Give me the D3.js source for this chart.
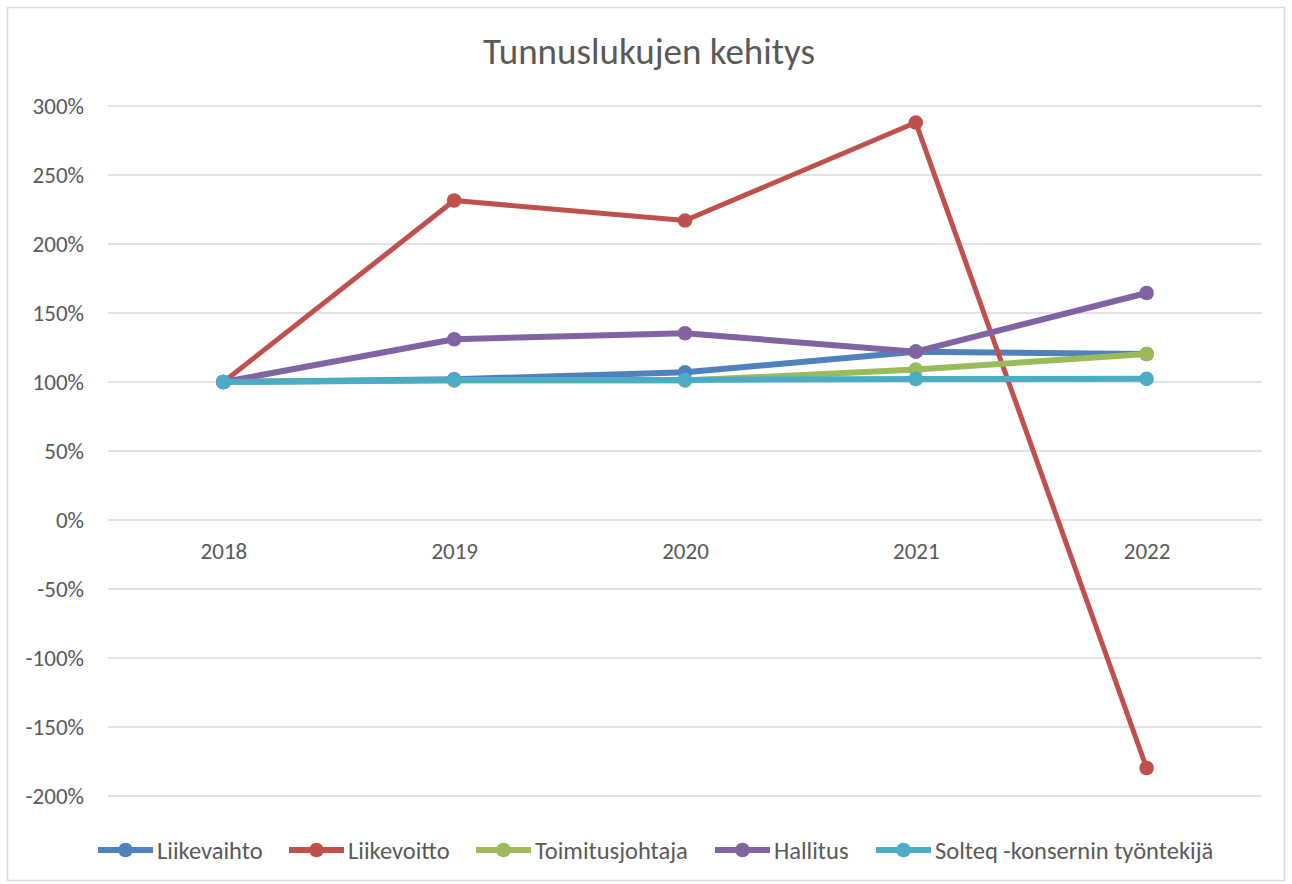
<!DOCTYPE html>
<html>
<head>
<meta charset="utf-8">
<script src="https://cdn.jsdelivr.net/npm/d3@7"></script>
<style>
  body { margin: 0; background: #fff; }
  text { font-family: Carlito, "Noto Sans", sans-serif; fill: #595959; }
</style>
</head>
<body>
<div id="chart"></div>
<script>
  // years and index values (2018 = 100 %)
  const years = ['2018', '2019', '2020', '2021', '2022'];
  const yTicks = [-200, -150, -100, -50, 0, 50, 100, 150, 200, 250, 300];

  const liikevaihto = [100, 102, 107, 122, 120.3];
  const liikevoitto = [100, 231.5, 217, 288, -179.7];
  const toimitusjohtaja = [100, 101, 101, 109, 120.3];
  const hallitus = [100, 131, 135.3, 122, 164.5];
  const solteq = [100, 101.5, 101.5, 102.2, 102.3];

  const seriesNames = ['Liikevaihto', 'Liikevoitto', 'Toimitusjohtaja', 'Hallitus', 'Solteq -konsernin työntekijä'];
  const seriesColors = ['#4f81bd', '#c0504d', '#9bbb59', '#8064a2', '#4bacc6'];

  const series = [liikevaihto, liikevoitto, toimitusjohtaja, hallitus, solteq].map((vals, i) => ({
    name: seriesNames[i], color: seriesColors[i], values: vals
  }));

  const width = 1292, height = 884;
  const plotLeft = 108, plotRight = 1262, plotTop = 106, plotBottom = 796;

  const svg = d3.select('#chart').append('svg')
      .attr('width', width)
      .attr('height', height);

  // chart border
  svg.append('rect')
      .attr('x', 7.5).attr('y', 7.5)
      .attr('width', 1277).attr('height', 873)
      .attr('fill', '#fff')
      .attr('stroke', '#d9d9d9')
      .attr('stroke-width', 1.5);

  let x = d3.scalePoint()
      .domain(years)
      .range([plotLeft, plotRight])
      .padding(0.5);

  let y = d3.scaleLinear()
      .domain([-200, 300])
      .range([plotBottom, plotTop]);

  // gridlines
  svg.append('g')
      .selectAll('line')
      .data(yTicks).enter()
      .append('line')
      .attr('x1', plotLeft).attr('x2', plotRight)
      .attr('y1', d => y(d)).attr('y2', d => y(d))
      .attr('stroke', '#d9d9d9')
      .attr('stroke-width', 1.3);

  // y axis labels
  let yAxis = d3.axisLeft(y)
      .tickValues(yTicks)
      .tickSize(0)
      .tickPadding(0)
      .tickFormat(d => d + '%');

  svg.append('g')
      .attr('transform', 'translate(' + (plotLeft - 24) + ',0)')
      .call(yAxis)
      .call(g => g.select('.domain').remove())
      .selectAll('text')
        .style('font-size', '23px')
        .attr('fill', '#595959');

  // x axis labels sit at 0%
  let xAxis = d3.axisBottom(x).tickSize(0).tickPadding(0);
  svg.append('g')
      .attr('transform', 'translate(0,' + (y(0) + 31) + ')')
      .call(xAxis)
      .call(g => g.select('.domain').remove())
      .selectAll('text')
        .style('font-size', '23px')
        .attr('dy', '0.35em')
        .attr('fill', '#595959');

  // title
  svg.append('text')
      .attr('x', 649)
      .attr('y', 64)
      .attr('text-anchor', 'middle')
      .style('font-size', '37px')
      .text('Tunnuslukujen kehitys');

  let line = d3.line()
      .x((d, i) => x(years[i]))
      .y(d => y(d));

  let groups = svg.append('g')
      .selectAll('g')
      .data(series).enter()
      .append('g');

  groups.append('path')
      .attr('d', d => line(d.values))
      .attr('fill', 'none')
      .attr('stroke', d => d.color)
      .attr('stroke-width', d => d.name === 'Liikevoitto' ? 5 : 6)
      .attr('stroke-linejoin', 'round');

  groups.selectAll('circle')
      .data(d => d.values.map(v => ({ v: v, color: d.color })))
      .enter()
      .append('circle')
      .attr('cx', (d, i) => x(years[i]))
      .attr('cy', d => y(d.v))
      .attr('r', 7.3)
      .attr('fill', d => d.color);

  // legend
  const legendX = [98, 289, 476, 715, 876];
  let legend = svg.append('g')
      .selectAll('g')
      .data(series).enter()
      .append('g')
      .attr('transform', (d, i) => 'translate(' + legendX[i] + ',850)');

  legend.append('line')
      .attr('x1', 0).attr('x2', 55)
      .attr('stroke', d => d.color)
      .attr('stroke-width', 6);

  legend.append('circle')
      .attr('cx', 27.5)
      .attr('r', 7.3)
      .attr('fill', d => d.color);

  legend.append('text')
      .attr('x', 59)
      .attr('dy', '0.35em')
      .style('font-size', '24.5px')
      .text(d => d.name);
</script>
</body>
</html>
